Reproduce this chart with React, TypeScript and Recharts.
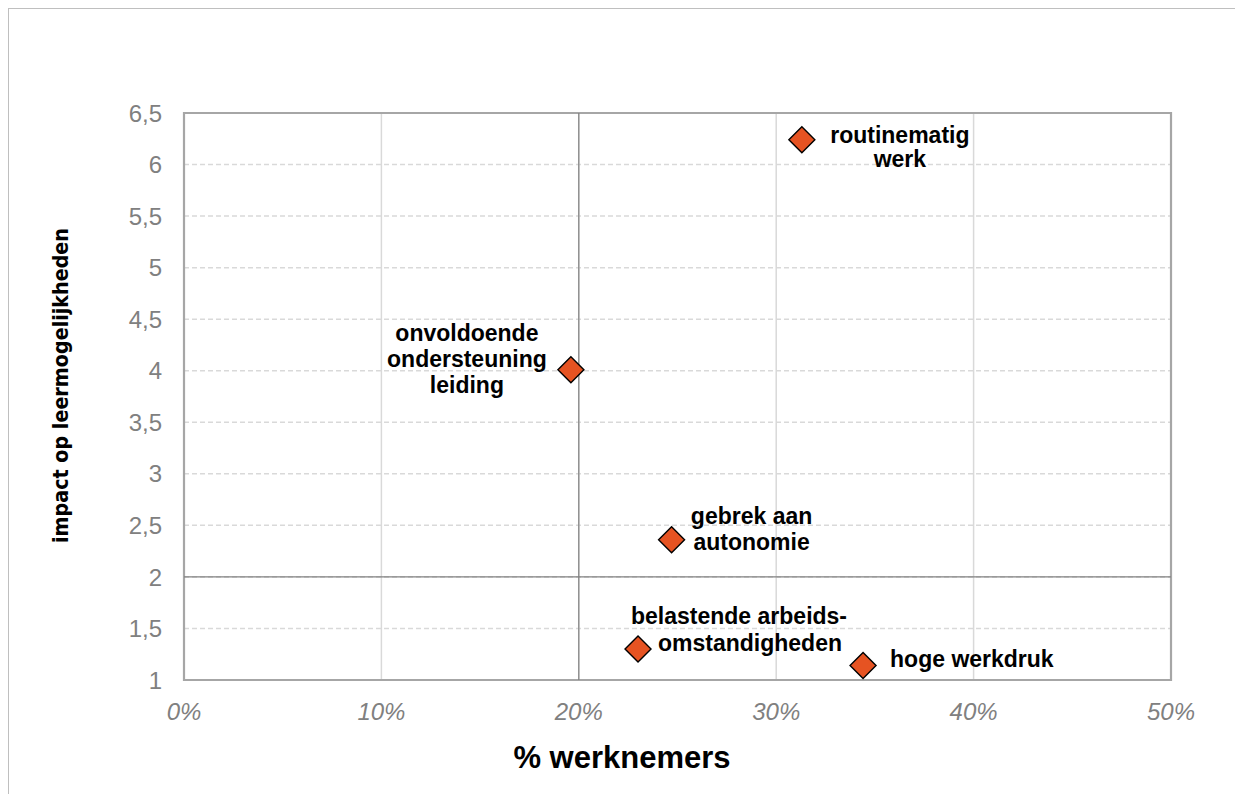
import {
  ScatterChart,
  Scatter,
  XAxis,
  YAxis,
  CartesianGrid,
  ReferenceLine,
  ReferenceArea,
} from 'recharts';

// values
const categories = [
  'routinematig werk',
  'onvoldoende ondersteuning leiding',
  'gebrek aan autonomie',
  'belastende arbeidsomstandigheden',
  'hoge werkdruk',
];
const labelLines = [
  ['routinematig', 'werk'],
  ['onvoldoende', 'ondersteuning', 'leiding'],
  ['gebrek aan', 'autonomie'],
  ['belastende arbeids-', 'omstandigheden'],
  ['hoge werkdruk'],
];
const pctWerknemers = [31.3, 19.6, 24.7, 23.0, 34.4];
const impactLeren = [6.24, 4.01, 2.36, 1.3, 1.14];
const xTicks = [0, 10, 20, 30, 40, 50];
const yTicks = [1, 1.5, 2, 2.5, 3, 3.5, 4, 4.5, 5, 5.5, 6, 6.5];

// label placement relative to the marker (layout only)
const labelLayout: Record<string, { anchor: string; dx: number[]; dy: number[] }> = {
  'routinematig werk': { anchor: 'middle', dx: [98, 98], dy: [3, 27] },
  'onvoldoende ondersteuning leiding': { anchor: 'middle', dx: [-104, -104, -104], dy: [-29, -3, 23] },
  'gebrek aan autonomie': { anchor: 'middle', dx: [80, 80], dy: [-16, 10] },
  'belastende arbeidsomstandigheden': { anchor: 'middle', dx: [101, 112], dy: [-25, 2] },
  'hoge werkdruk': { anchor: 'start', dx: [27], dy: [1] },
};

const chartData = categories.map((name, i) => ({
  name,
  x: pctWerknemers[i],
  y: impactLeren[i],
  lines: labelLines[i],
}));

const FONT = "'Liberation Sans', Arial, sans-serif";
const TICK_GREY = '#808080';

function Diamond(props: any) {
  const { cx, cy, payload } = props;
  if (cx == null || cy == null) return null;
  const r = 13;
  const layout = labelLayout[payload.name];
  return (
    <g>
      <polygon
        points={`${cx},${cy - r} ${cx + r},${cy} ${cx},${cy + r} ${cx - r},${cy}`}
        fill="#E65322"
        stroke="#000"
        strokeWidth={1.4}
      />
      {payload.lines.map((line: string, i: number) => (
        <text
          key={i}
          x={cx + layout.dx[i]}
          y={cy + layout.dy[i]}
          textAnchor={layout.anchor}
          fontFamily={FONT}
          fontWeight="bold"
          fontSize={23}
          fill="#000"
        >
          {line}
        </text>
      ))}
    </g>
  );
}

function XTick({ x, y, payload }: any) {
  return (
    <text
      x={x}
      y={y + 40}
      textAnchor="middle"
      fontFamily={FONT}
      fontStyle="italic"
      fontSize={24}
      fill={TICK_GREY}
    >
      {payload.value}%
    </text>
  );
}

function YTick({ x, y, payload }: any) {
  return (
    <text
      x={x - 22}
      y={y + 8.6}
      textAnchor="end"
      fontFamily={FONT}
      fontSize={24}
      fill={TICK_GREY}
    >
      {String(payload.value).replace('.', ',')}
    </text>
  );
}

function XTitle({ viewBox }: any) {
  return (
    <text
      x={viewBox.x + 438}
      y={viewBox.y + 88}
      textAnchor="middle"
      fontFamily={FONT}
      fontWeight="bold"
      fontSize={31}
      fill="#000"
    >
      % werknemers
    </text>
  );
}

function YTitle({ viewBox }: any) {
  const cx = viewBox.x + viewBox.width - 124;
  const cy = viewBox.y + viewBox.height / 2 - 11;
  return (
    <text
      x={cx}
      y={cy}
      transform={`rotate(-90 ${cx} ${cy})`}
      textAnchor="middle"
      dominantBaseline="central"
      fontFamily="'Liberation Sans Narrow', 'DejaVu Sans Condensed', Arial, sans-serif"
      fontWeight="bold"
      fontSize={22}
      textLength={315}
      lengthAdjust="spacingAndGlyphs"
      fill="#000"
    >
      impact op leermogelijkheden
    </text>
  );
}

export default function App() {
  return (
    <div
      style={{
        width: 1227,
        height: 786,
        boxSizing: 'border-box',
        borderTop: '1px solid #bfbfbf',
        borderLeft: '1px solid #bfbfbf',
        background: '#fff',
      }}
    >
      <ScatterChart
        width={1226}
        height={785}
        margin={{ top: 104, right: 64, bottom: 14, left: 75 }}
      >
        <CartesianGrid vertical={false} stroke="#d9d9d9" strokeWidth={1.5} strokeDasharray="5 3" />
        <CartesianGrid horizontal={false} stroke="#d9d9d9" strokeWidth={1.5} />
        <XAxis
          type="number"
          dataKey="x"
          domain={[0, 50]}
          ticks={xTicks}
          height={100}
          axisLine={false}
          tickLine={false}
          tickSize={0}
          tickMargin={0}
          tick={<XTick />}
          label={<XTitle />}
        />
        <YAxis
          type="number"
          dataKey="y"
          domain={[1, 6.5]}
          ticks={yTicks}
          width={100}
          axisLine={false}
          tickLine={false}
          tickSize={0}
          tickMargin={0}
          tick={<YTick />}
          label={<YTitle />}
        />
        <ReferenceLine x={20} stroke="#808080" strokeWidth={1.2} />
        <ReferenceLine y={2} stroke="#808080" strokeWidth={1.2} />
        <ReferenceArea x1={0} x2={50} y1={1} y2={6.5} fill="none" stroke="#a6a6a6" strokeWidth={2.2} />
        <Scatter data={chartData} shape={<Diamond />} isAnimationActive={false} />
      </ScatterChart>
    </div>
  );
}
